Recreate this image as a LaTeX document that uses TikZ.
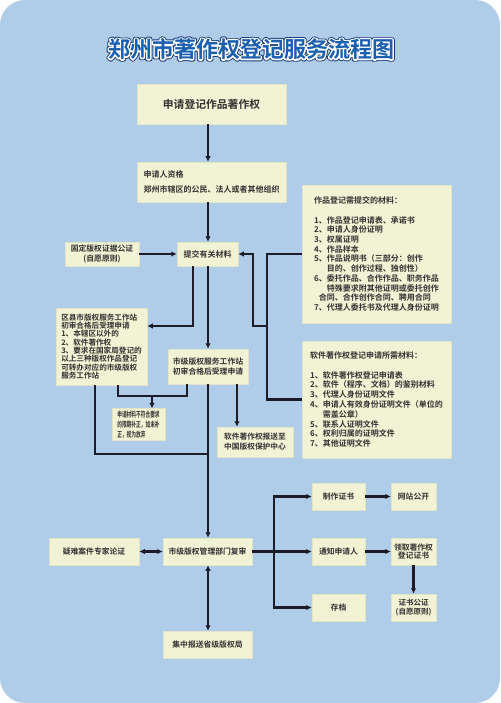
\documentclass[tikz,border=0pt]{standalone}
\usepackage{fontspec}
\setmainfont{Noto Sans CJK SC}[BoldFont={Noto Sans CJK SC Bold}]
\newfontfamily\narrowcjk{Noto Sans CJK SC Bold}[FakeStretch=0.62]
\usetikzlibrary{arrows.meta}
\definecolor{sky}{RGB}{175,205,233}
\definecolor{cream}{RGB}{242,242,212}
\definecolor{creamedge}{RGB}{226,228,200}
\definecolor{ink}{RGB}{50,50,50}
\definecolor{wire}{RGB}{28,28,40}
\definecolor{titleblue}{RGB}{27,95,175}
\definecolor{titleedge}{RGB}{25,60,120}
% outline text: stroke the glyphs instead of filling them
\newcommand{\strokedtext}[2]{%
  \special{pdf:literal direct 1 Tr #1 w 1 j}#2\special{pdf:literal direct 0 Tr}}

\begin{document}
\begin{tikzpicture}[
  x=1pt, y=-1pt,
  card/.style={fill=cream, draw=creamedge, line width=0.5pt, inner sep=2pt,
               text=ink, align=center, font=\bfseries\fontsize{7.8}{9.5}\selectfont},
  flow/.style={line width=2.2pt, draw=wire, -{Latex[length=5.5pt,width=5.5pt]}},
  rail/.style={line width=2.2pt, draw=wire},
  twoway/.style={line width=2.2pt, draw=wire,
                 {Latex[length=5.5pt,width=5.5pt]}-{Latex[length=5.5pt,width=5.5pt]}},
  title/.style={font=\bfseries\fontsize{22}{22}\selectfont, inner sep=0pt}]

% ============================ background ================================
\fill[white] (0,0) rectangle (500,703);
\fill[sky, rounded corners=25pt] (0,0) rectangle (500,703);
\useasboundingbox (0,0) rectangle (500,703);

% ============================== title ===================================
\node[title, text=titleedge] (headedge) at (251,49) {\strokedtext{4.6}{郑州市著作权登记服务流程图}};
\node[title, text=white] (headline) at (251,49) {\strokedtext{2.8}{郑州市著作权登记服务流程图}};
\node[title, text=titleblue] (head) at (251,49) {郑州市著作权登记服务流程图};

% ========================= spine and junctions ==========================
\coordinate (sp) at (208,0);
\coordinate (ba) at (267,0);
\coordinate (bb) at (253,0);
\coordinate (lc) at (193,0);
\coordinate (cl) at (118,0);
\coordinate (cr) at (187,0);
\coordinate (fx) at (152,0);
\coordinate (cf) at (95,0);
\coordinate (rp) at (237,0);
\coordinate (rb) at (274,0);
\coordinate (kb) at (0,326);
\coordinate (kf) at (0,396);
\coordinate (kj) at (0,454);

% ============================ upper part ================================
\node[card, minimum width=149, minimum height=40,
      font=\bfseries\fontsize{10.8}{12}\selectfont] (apply) at (211.5,104) {申请登记作品著作权};
\node[card, minimum width=149, minimum height=40, align=left,
      font=\bfseries\fontsize{8}{15}\selectfont] (qual) at (211.5,182)
  {申请人资格\\郑州市辖区的公民、法人或者其他组织};
\node[card, minimum width=74, minimum height=24,
      font=\bfseries\fontsize{7.8}{9.2}\selectfont] (notary) at (102,254)
  {固定版权证据公证\\(自愿原则)};
\node[card, minimum width=61, minimum height=24,
      font=\bfseries\fontsize{8}{10}\selectfont] (submit) at (207.5,254) {提交有关材料};
\node[card, minimum width=149, minimum height=138, align=left,
      font=\bfseries\fontsize{8}{9.7}\selectfont] (works) at (376.5,254)
  {作品登记需提交的材料：\\[9.7pt]
   1、作品登记申请表、承诺书\\
   2、申请人身份证明\\
   3、权属证明\\
   4、作品样本\\
   5、作品说明书（三部分：创作\\
   \phantom{5、}目的、创作过程、独创性）\\
   6、委托作品、合作作品、职务作品\\
   \phantom{6、}特殊要求附其他证明或委托创作\\
   \phantom{6}合同、合作创作合同、聘用合同\\
   7、代理人委托书及代理人身份证明};
\node[card, minimum width=149, minimum height=117, align=left,
      font=\bfseries\fontsize{8}{9.8}\selectfont] (soft) at (376.5,399.5)
  {软件著作权登记申请所需材料：\\[9.8pt]
   1、软件著作权登记申请表\\
   2、软件（程序、文档）的鉴别材料\\
   3、代理人身份证明文件\\
   4、申请人有效身份证明文件（单位的\\
   \phantom{4、}需盖公章）\\
   5、联系人证明文件\\
   6、权利归属的证明文件\\
   7、其他证明文件};

% ============================ middle part ===============================
\node[card, minimum width=91, minimum height=77, align=left,
      font=\bfseries\fontsize{7.6}{8.3}\selectfont] (county) at (101.5,346.5)
  {区县市版权服务工作站\\初审合格后受理申请\\1、本辖区以外的\\2、软件著作权\\
   3、要求在国家局登记的\\以上三种版权作品登记\\可转办对应的市级版权\\服务工作站};
\node[card, minimum width=80, minimum height=35,
      font=\bfseries\fontsize{7.8}{10}\selectfont] (city) at (208,366.5)
  {市级版权服务工作站\\初审合格后受理申请};
\node[card, minimum width=53, minimum height=31, align=left,
      font=\narrowcjk\fontsize{7.6}{10}\selectfont] (fix) at (138.5,424.5)
  {申请材料不符合要求\\的限期补正，如未补\\正，视为放弃};
\node[card, minimum width=76, minimum height=30,
      font=\bfseries\fontsize{7.7}{10}\selectfont] (report) at (255,442)
  {软件著作权报送至\\中国版权保护中心};

% ============================ lower part ================================
\node[card, minimum width=89, minimum height=27] (review) at (207.5,551.5) {市级版权管理部门复审};
\node[card, minimum width=90, minimum height=27] (expert) at (94,551.5) {疑难案件专家论证};
\node[card, minimum width=89, minimum height=27] (province) at (207.5,644.5) {集中报送省级版权局};
\node[card, minimum width=53, minimum height=27] (cert) at (338.5,496.5) {制作证书};
\node[card, minimum width=45, minimum height=27] (web) at (413.5,496.5) {网站公开};
\node[card, minimum width=53, minimum height=27] (notify) at (338.5,551.5) {通知申请人};
\node[card, minimum width=45, minimum height=27,
      font=\bfseries\fontsize{7.8}{8.5}\selectfont] (collect) at (413.5,551.5) {领取著作权\\登记证书};
\node[card, minimum width=53, minimum height=27] (archive) at (338.5,607.5) {存档};
\node[card, minimum width=45, minimum height=27,
      font=\bfseries\fontsize{7.5}{8.5}\selectfont] (certnot) at (413.5,607.5) {证书公证\\(自愿原则)};

% ============================= connectors ===============================
\draw[flow] (apply.south -| sp) -- (qual.north -| sp);
\draw[flow] (qual.south -| sp) -- (submit.north -| sp);
\draw[flow] (notary.east) -- (submit.west);
\draw[rail] (works.west) -- (works.west -| ba) -- (soft.west -| ba) -- (soft.west);
\draw[flow] (ba |- kb) -| (bb |- submit.east) -- (submit.east);
\draw[flow] (submit.south -| lc) |- (county.east |- kb);
\draw[flow] (submit.south -| sp) -- (city.north -| sp);
\draw[rail] (county.south -| cl) -- (cl |- kf) -- (cr |- kf) -- (city.south -| cr);
\draw[flow] (fx |- kf) -- (fix.north -| fx);
\draw[rail] (county.south -| cf) |- (sp |- kj);
\draw[flow] (city.south -| sp) -- (review.north -| sp);
\draw[flow] (city.south -| rp) -- (report.north -| rp);
\draw[twoway] (expert.east) -- (review.west);
\draw[twoway] (review.south -| sp) -- (province.north -| sp);
\draw[flow] (review.east) -- (notify.west);
\draw[flow] (rb |- notify.west) |- (cert.west);
\draw[flow] (rb |- notify.west) |- (archive.west);
\draw[flow] (cert.east) -- (web.west);
\draw[flow] (notify.east) -- (collect.west);
\draw[flow] (collect.south) -- (certnot.north);

\end{tikzpicture}
\end{document}
